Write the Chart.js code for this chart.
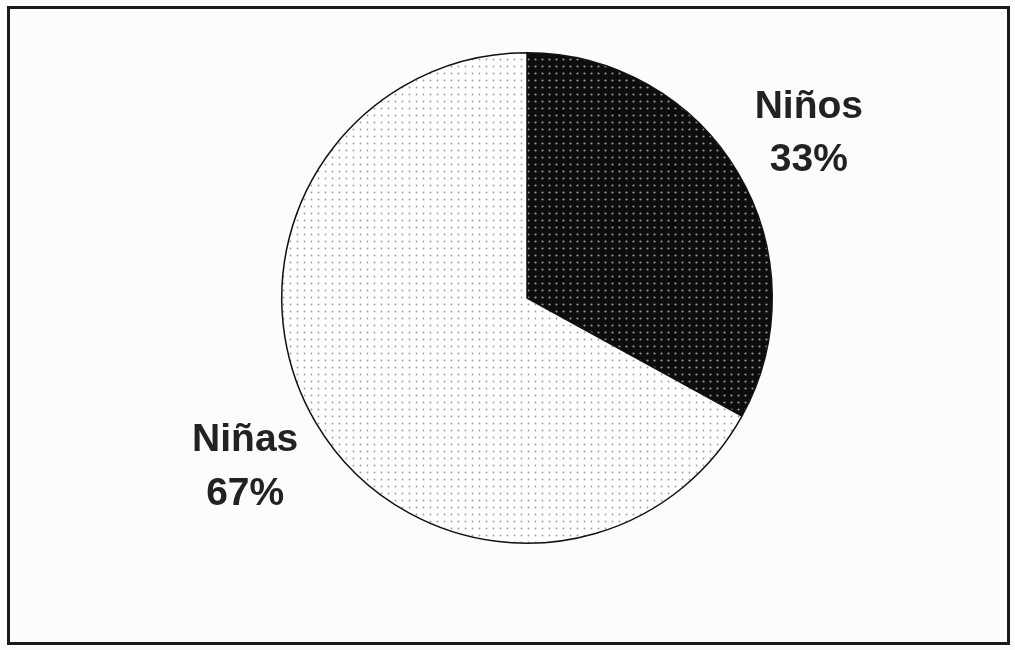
<!DOCTYPE html>
<html>
<head>
<meta charset="utf-8">
<script src="https://cdn.jsdelivr.net/npm/chart.js@4/dist/chart.umd.min.js"></script>
<style>
body { margin: 0; background: #fbfcfd; }
#wrap { position: relative; width: 1015px; height: 650px; }
#frame { position: absolute; left: 7px; top: 6px; width: 1003px; height: 639px; border: 3px solid #1a1a1a; box-sizing: border-box; }
canvas { position: absolute; left: 0; top: 0; }
</style>
</head>
<body>
<div id="wrap">
<div id="frame"></div>
<canvas id="chartCanvas" width="1015" height="650"></canvas>
</div>
<script>
const categories = ["Niños", "Niñas"];
const values = [33, 67];
const percentLabels = ["33%", "67%"];

function dotPattern(bg, dot, size, r) {
    const c = document.createElement("canvas");
    c.width = size; c.height = size;
    const g = c.getContext("2d");
    g.fillStyle = bg;
    g.fillRect(0, 0, size, size);
    g.fillStyle = dot;
    g.beginPath();
    g.arc(size / 2, size / 2, r, 0, Math.PI * 2);
    g.fill();
    return g.createPattern(c, "repeat");
}

const ctx = document.getElementById("chartCanvas");

// labels outside each slice, placed along the slice's middle angle
const outsideLabels = {
    id: "outsideLabels",
    afterDatasetsDraw(chart) {
        const c = chart.ctx;
        const arcs = chart.getDatasetMeta(0).data;
        c.save();
        c.fillStyle = "#222";
        c.font = "bold 39px 'Liberation Sans', Arial, sans-serif";
        c.textAlign = "center";
        c.textBaseline = "alphabetic";
        arcs.forEach((arc, i) => {
            const mid = (arc.startAngle + arc.endAngle) / 2;
            const d = arc.outerRadius * 1.335;
            const x = arc.x + Math.cos(mid) * d;
            const y = arc.y + Math.sin(mid) * d;
            c.fillText(categories[i], x, y - 13.5);
            c.fillText(percentLabels[i], x, y + 40);
        });
        c.restore();
    }
};

new Chart(ctx, {
    type: "pie",
    data: {
        labels: categories,
        datasets: [{
            data: values,
            backgroundColor: [
                dotPattern("#0d0d0d", "#9a9a9a", 7, 1.1),
                dotPattern("#ffffff", "#9c9c9c", 7, 0.9)
            ],
            borderColor: "#111",
            borderWidth: 1.5
        }]
    },
    options: {
        responsive: false,
        animation: false,
        events: [],
        layout: { padding: { top: 52, bottom: 106, left: 100, right: 61 } },
        plugins: {
            legend: { display: false },
            tooltip: { enabled: false }
        }
    },
    plugins: [outsideLabels]
});
</script>
</body>
</html>
